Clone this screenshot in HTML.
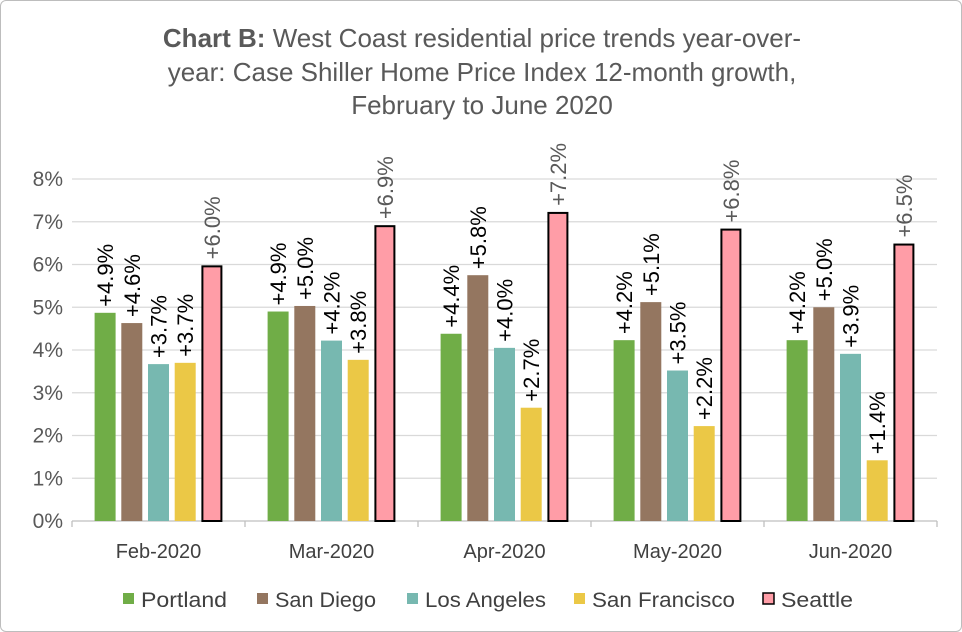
<!DOCTYPE html>
<html><head><meta charset="utf-8"><style>
body{margin:0;background:#fff;}
#wrap{position:relative;width:960px;height:630px;border:1px solid #bdbdbd;border-radius:6px;background:#fff;overflow:hidden;font-family:"Liberation Sans",sans-serif;}
svg text{font-family:"Liberation Sans",sans-serif;}
</style></head><body>
<div id="wrap">
<svg id="chart" width="962" height="632">
<text x="481" y="46" text-anchor="middle" font-size="26" fill="#595959"><tspan font-weight="bold">Chart B:</tspan> West Coast residential price trends year-over-</text>
<text x="481" y="80" text-anchor="middle" font-size="26" fill="#595959">year: Case Shiller Home Price Index 12-month growth,</text>
<text x="481" y="113" text-anchor="middle" font-size="26" fill="#595959">February to June 2020</text>
</svg>
</div>
<script>
const categories=["Feb-2020","Mar-2020","Apr-2020","May-2020","Jun-2020"];
const seriesNames=["Portland","San Diego","Los Angeles","San Francisco","Seattle"];
const portland=[4.87,4.9,4.38,4.23,4.23];
const sanDiego=[4.63,5.03,5.75,5.12,5.0];
const losAngeles=[3.67,4.22,4.05,3.52,3.91];
const sanFrancisco=[3.7,3.77,2.65,2.22,1.42];
const seattle=[5.98,6.92,7.23,6.84,6.49];
const labelsPortland=["+4.9%","+4.9%","+4.4%","+4.2%","+4.2%"];
const labelsSanDiego=["+4.6%","+5.0%","+5.8%","+5.1%","+5.0%"];
const labelsLosAngeles=["+3.7%","+4.2%","+4.0%","+3.5%","+3.9%"];
const labelsSanFrancisco=["+3.7%","+3.8%","+2.7%","+2.2%","+1.4%"];
const labelsSeattle=["+6.0%","+6.9%","+7.2%","+6.8%","+6.5%"];
const yTicks=[0,1,2,3,4,5,6,7,8];
const colors=["#70ad47","#947660","#77b8b0","#ebc846","#ff9da7"];
const series=[portland,sanDiego,losAngeles,sanFrancisco,seattle];
const labels=[labelsPortland,labelsSanDiego,labelsLosAngeles,labelsSanFrancisco,labelsSeattle];
const svg=document.getElementById('chart');
const NS='http://www.w3.org/2000/svg';
const X0=71,X1=936,Y0=520,Y8=178;
const y=v=>Y0-(v/8)*(Y0-Y8);
const catW=(X1-X0)/categories.length;
const barW=21,pitch=26.7;
function mk(t,a){const e=document.createElementNS(NS,t);for(const k in a)e.setAttribute(k,a[k]);svg.appendChild(e);return e;}
yTicks.forEach(t=>{
 if(t>0){const g=mk('line',{x1:X0,x2:X1,y1:y(t),y2:y(t),stroke:'#d9d9d9','stroke-width':1.3});
 
 }
 const l=mk('text',{x:62,y:y(t)+7,'text-anchor':'end','font-size':21,fill:'#595959'});
 l.textContent=t+'%';
 
 
});
const ax=mk('line',{x1:X0,x2:X1,y1:Y0,y2:Y0,stroke:'#bfbfbf','stroke-width':1.3});


for(let i=0;i<=categories.length;i++){
 const tk=mk('line',{x1:X0+i*catW,x2:X0+i*catW,y1:Y0,y2:Y0+6,stroke:'#bfbfbf','stroke-width':1.3});
 
 
}
categories.forEach((c,i)=>{
 const cx=X0+catW*(i+0.5);
 const t=mk('text',{x:cx,y:557,'text-anchor':'middle','font-size':20,fill:'#404040'});
 t.textContent=c;
 
 
 series.forEach((s,j)=>{
  const bx=cx-(4*pitch+barW)/2+j*pitch;
  const top=y(s[i]);
  const attrs={x:bx,y:top,width:barW,height:Y0-top,fill:colors[j]};
  if(j===4){attrs.stroke='#000';attrs['stroke-width']=2;attrs.x=bx+1;attrs.width=barW-2;attrs.y=top+1;attrs.height=Y0-top-1;}
  const r=mk('rect',attrs);
  
  
  const lx=bx+barW/2+8,ly=top-6;
  const lt=mk('text',{x:lx,y:ly,'font-size':22,fill:j===4?'#595959':'#000',transform:'rotate(-90 '+lx+' '+ly+')'});
  lt.textContent=labels[j][i];
  
  
 });
});
const legX=[122,256,406,573,762];
const legW=[86,101,121,143,72];
seriesNames.forEach((n,j)=>{
 const r=mk('rect',{x:legX[j],y:592,width:11,height:11,fill:colors[j]});
 if(j===4){r.setAttribute('stroke','#000');r.setAttribute('stroke-width','1.5');}
 
 
 const t=mk('text',{x:legX[j]+18,y:606,'font-size':21,fill:'#404040',textLength:legW[j],lengthAdjust:'spacingAndGlyphs'});
 t.textContent=n;
 
 
});
</script>
</body></html>
